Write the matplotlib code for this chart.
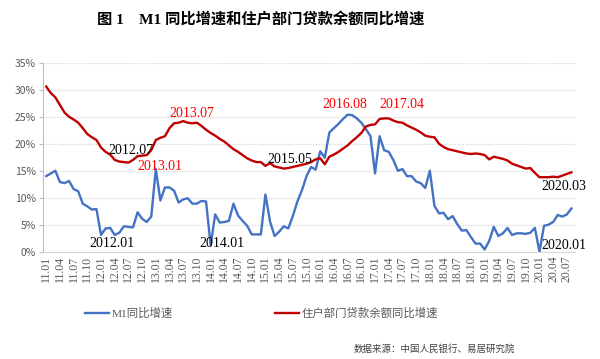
import numpy as np
import pandas as pd
import matplotlib
matplotlib.use("Agg")
import matplotlib.pyplot as plt

plt.rcParams["font.family"] = ["Liberation Serif", "Noto Sans CJK SC", "DejaVu Sans"]

# 月份 2011.01 - 2020.08
months = pd.period_range("2011-01", "2020-08", freq="M")
tick_labels = [f"{p.year % 100:02d}.{p.month:02d}" for p in months]

# M1 同比增速 (%)
m1 = [
    14.0, 14.5, 15.0, 12.9, 12.7, 13.1, 11.6, 11.2, 8.9, 8.4, 7.8, 7.9,
    3.1, 4.3, 4.4, 3.1, 3.5, 4.7, 4.6, 4.5, 7.3, 6.1, 5.5, 6.5,
    15.3, 9.5, 11.9, 11.9, 11.3, 9.1, 9.7, 9.9, 8.9, 8.9, 9.4, 9.3,
    1.2, 6.9, 5.4, 5.5, 5.7, 8.9, 6.7, 5.7, 4.8, 3.2, 3.2, 3.2,
    10.6, 5.6, 2.9, 3.7, 4.7, 4.3, 6.6, 9.3, 11.4, 14.0, 15.7, 15.2,
    18.6, 17.4, 22.1, 22.9, 23.7, 24.6, 25.4, 25.3, 24.7, 23.9, 22.7, 21.4,
    14.5, 21.4, 18.8, 18.5, 17.0, 15.0, 15.3, 14.0, 14.0, 13.0, 12.7, 11.8,
    15.0, 8.5, 7.1, 7.2, 6.0, 6.6, 5.1, 3.9, 4.0, 2.7, 1.5, 1.5,
    0.4, 2.0, 4.6, 2.9, 3.4, 4.4, 3.1, 3.4, 3.4, 3.3, 3.5, 4.4,
    0.0, 4.8, 5.0, 5.5, 6.8, 6.5, 6.9, 8.0,
]

# 住户部门贷款余额同比增速 (%)
household = [
    30.6, 29.4, 28.6, 27.2, 25.8, 25.0, 24.5, 23.9, 22.9, 21.8, 21.2, 20.7,
    19.3, 18.5, 18.0, 17.0, 16.7, 16.6, 16.5, 17.0, 17.7, 17.8, 17.9, 18.8,
    20.7, 21.1, 21.4, 22.9, 23.8, 23.9, 24.2, 23.9, 23.8, 23.9, 23.3, 22.6,
    22.0, 21.5, 20.9, 20.4, 19.7, 19.0, 18.5, 17.9, 17.3, 16.9, 16.6, 16.6,
    15.9, 16.4, 15.8, 15.6, 15.4, 15.5, 15.7, 15.9, 16.1, 16.3, 16.6, 17.1,
    17.3, 16.2, 17.6, 18.0, 18.5, 19.1, 19.7, 20.5, 21.2, 22.0, 23.2, 23.5,
    23.6, 24.6, 24.7, 24.7, 24.3, 24.0, 23.9, 23.4, 23.0, 22.6, 22.1, 21.5,
    21.3, 21.2, 20.0, 19.4, 19.0, 18.8, 18.6, 18.4, 18.2, 18.1, 18.2, 18.1,
    17.9, 17.1, 17.6, 17.4, 17.2, 16.9, 16.3, 16.0, 15.7, 15.4, 15.5, 14.6,
    13.8, 13.8, 13.8, 13.9, 13.8, 14.1, 14.4, 14.7,
]

# 标注: (文字, 月份, 数值位置, 颜色)
notes = [
    ("2012.07", "2012-07", 18.8, "black"),
    ("2013.01", "2013-01", 15.7, "#FF0000"),
    ("2013.07", "2013-07", 25.7, "#FF0000"),
    ("2012.01", "2012-01", 1.6, "black"),
    ("2014.01", "2014-01", 1.6, "black"),
    ("2015.05", "2015-05", 17.0, "black"),
    ("2016.08", "2016-08", 27.2, "#FF0000"),
    ("2017.04", "2017-04", 27.3, "#FF0000"),
    ("2020.03", "2020-03", 12.0, "black"),
    ("2020.01", "2020-01", 1.2, "black"),
]
note_dx = {"2012.07": 0.6, "2013.01": 0.8, "2013.07": 1.8, "2012.01": 2.3,
           "2014.01": 2.4, "2015.05": 1.3, "2016.08": -1.6, "2017.04": 2.9,
           "2020.03": 3.4, "2020.01": 5.4}

x = np.arange(len(months))
fig = plt.figure(figsize=(6, 3.59), dpi=100, facecolor="white")
ax = fig.add_axes([0.0717, 0.299, 0.886, 0.526])

ax.plot(x, m1, color="#4472C4", lw=1.7, label="M1同比增速")
ax.plot(x, household, color="#C00000", lw=1.7, label="住户部门贷款余额同比增速")

ax.set_ylim(0, 35)
ax.set_xlim(-0.7, len(months) - 0.3)
ax.set_yticks(np.arange(0, 36, 5))
ax.set_yticklabels([f"{v}%" for v in range(0, 36, 5)], family="Noto Sans CJK SC",
                   fontsize=7.5, color="#595959")
ax.set_xticks(x[::3])
ax.set_xticklabels(tick_labels[::3], rotation=90, fontsize=8.5, color="#595959")
ax.tick_params(axis="y", length=3, color="#BFBFBF", pad=2)
ax.tick_params(axis="x", length=0, pad=3)
ax.grid(axis="y", linestyle=(0, (1, 1.5)), color="#D0D0D0", lw=0.8)
ax.set_axisbelow(True)
for s in ("top", "right"):
    ax.spines[s].set_visible(False)
ax.spines["left"].set_color("#BFBFBF")
ax.spines["bottom"].set_color("#D9D9D9")

pos = {str(p): i for i, p in enumerate(months)}
for txt, m, yv, col in notes:
    ax.text(pos[m] + note_dx[txt], yv, txt, color=col, fontsize=10,
            ha="center", va="center")

fig.text(0.435, 0.944, "图 1\u3000M1 同比增速和住户部门贷款余额同比增速",
         ha="center", va="center", fontsize=11, fontweight="bold")

fig.legend(loc="center", bbox_to_anchor=(0.436, 0.128), ncol=2, frameon=False,
           fontsize=8.2, handlelength=2.1, handletextpad=0.2, columnspacing=9.0,
           labelcolor="#595959")

fig.text(0.858, 0.028, "数据来源：中国人民银行、易居研究院", ha="right", va="center",
         fontsize=6.8, color="#404040", family="Noto Sans CJK SC")

fig.savefig("out.png", dpi=100, facecolor="white")
